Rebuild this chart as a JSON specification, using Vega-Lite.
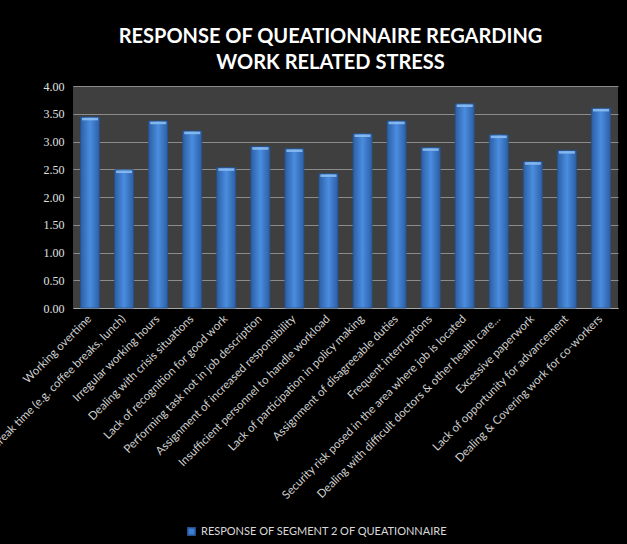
{
  "$schema": "https://vega.github.io/schema/vega-lite/v6.json",
  "autosize": {"type": "none"},
  "width": 545,
  "height": 222,
  "padding": {"left": 73, "top": 86, "right": 9, "bottom": 236},
  "background": "#000000",
  "title": {
    "text": ["RESPONSE OF QUEATIONNAIRE REGARDING", "WORK RELATED STRESS"],
    "font": "Lato",
    "fontSize": 20,
    "fontWeight": "bold",
    "color": "#ffffff",
    "anchor": "middle",
    "dx": -15,
    "lineHeight": 26,
    "offset": 7
  },
  "data": {
    "values": [
      {"factor": "Working overtime", "score": 3.44},
      {"factor": "Lack of break time (e.g. coffee breaks, lunch)", "score": 2.49},
      {"factor": "Irregular working hours", "score": 3.37},
      {"factor": "Dealing with crisis situations", "score": 3.19},
      {"factor": "Lack of recognition for good work", "score": 2.53},
      {"factor": "Performing task not in job description", "score": 2.91},
      {"factor": "Assignment of increased responsibility", "score": 2.87},
      {"factor": "Insufficient personnel to handle workload", "score": 2.42},
      {"factor": "Lack of participation in policy making", "score": 3.14},
      {"factor": "Assignment of disagreeable duties", "score": 3.37},
      {"factor": "Frequent interruptions", "score": 2.89},
      {"factor": "Security risk posed in the area where job is located", "score": 3.68},
      {"factor": "Dealing with difficult doctors & other health care...", "score": 3.12},
      {"factor": "Excessive paperwork", "score": 2.64},
      {"factor": "Lack of opportunity for advancement", "score": 2.84},
      {"factor": "Dealing & Covering work for co-workers", "score": 3.60}
    ]
  },
  "encoding": {
    "x": {
      "field": "factor",
      "type": "nominal",
      "sort": null,
      "title": null,
      "scale": {"paddingInner": 0.44, "paddingOuter": 0.22},
      "axis": {
        "labelAngle": -45,
        "labelAlign": "right",
        "labelBaseline": "middle",
        "labelFont": "Lato",
        "labelFontSize": 11.5,
        "labelColor": "#d0d0d0",
        "labelLimit": 500,
        "labelPadding": 9,
        "ticks": false,
        "domainColor": "#a6a6a6",
        "domainWidth": 1
      }
    },
    "y": {
      "field": "score",
      "type": "quantitative",
      "title": null,
      "scale": {"domain": [0, 4]},
      "axis": {
        "values": [0, 0.5, 1, 1.5, 2, 2.5, 3, 3.5, 4],
        "format": ".2f",
        "labelFont": "Liberation Serif",
        "labelFontSize": 12,
        "labelColor": "#e0e0e0",
        "labelPadding": 9,
        "ticks": false,
        "domain": false,
        "grid": true,
        "gridColor": "#8c8c8c",
        "gridWidth": 1
      }
    }
  },
  "layer": [
    {
      "mark": {
        "type": "bar",
        "stroke": "#25508a",
        "strokeWidth": 0.8,
        "fill": {
          "gradient": "linear",
          "x1": 0, "y1": 0, "x2": 1, "y2": 0,
          "stops": [
            {"offset": 0, "color": "#2c5ea3"},
            {"offset": 0.5, "color": "#4a8de0"},
            {"offset": 1, "color": "#2c5ea3"}
          ]
        }
      },
      "encoding": {
        "color": {
          "datum": "RESPONSE OF SEGMENT 2 OF QUEATIONNAIRE",
          "type": "nominal",
          "scale": {"range": ["#3d7fd6"]},
          "legend": {
            "title": null,
            "orient": "none",
            "legendX": 113,
            "legendY": 440,
            "symbolType": "square",
            "symbolSize": 55,
            "symbolStrokeColor": "#25508a",
            "labelFont": "Lato",
            "labelFontSize": 11,
            "labelColor": "#d9d9d9",
            "labelLimit": 400
          }
        }
      }
    },
    {
      "mark": {
        "type": "tick",
        "color": "#8cbcf2",
        "thickness": 2.5,
        "size": 16,
        "yOffset": 2,
        "opacity": 0.9
      },
      "encoding": {}
    }
  ],
  "config": {
    "view": {"fill": "#3f3f3f", "stroke": null}
  }
}
